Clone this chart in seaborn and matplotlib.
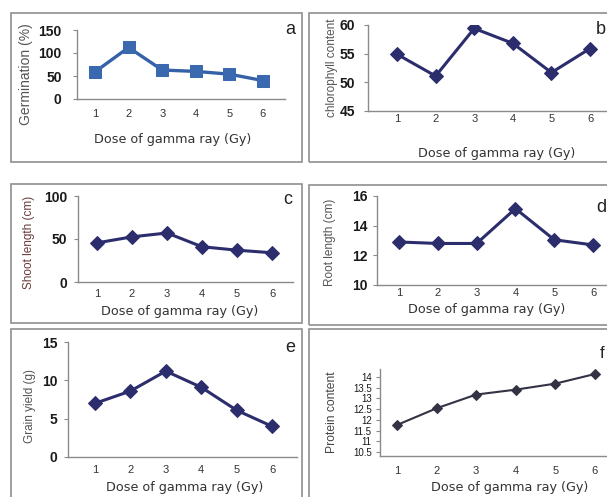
import matplotlib
matplotlib.use("Agg")
import matplotlib.pyplot as plt
import seaborn as sns
import pandas as pd
from matplotlib.patches import Rectangle

# ---------------- data ----------------
dose = [1, 2, 3, 4, 5, 6]
germination = [59, 112, 63, 60, 54, 40]
chlorophyll = [54.9, 51.1, 59.4, 56.8, 51.7, 55.9]
shoot_length = [45.5, 52.5, 57, 41, 37, 34]
root_length = [12.9, 12.8, 12.8, 15.15, 13.05, 12.7]
grain_yield = [7.0, 8.6, 11.2, 9.1, 6.1, 4.0]
protein = [11.76, 12.54, 13.18, 13.41, 13.69, 14.14]

xlabel_text = "Dose of gamma ray (Gy)"
ylabels = ["Germination (%)", "chlorophyll content", "Shoot length (cm)",
           "Root length (cm)", "Grain yield (g)", "Protein content"]
letters = ["a", "b", "c", "d", "e", "f"]

# ---------------- figure ----------------
sns.set_theme(style="white")
plt.rcParams["font.family"] = ["Liberation Sans", "DejaVu Sans"]
W, H = 607, 497
fig = plt.figure(figsize=(W / 100, H / 100), dpi=100)
fig.patch.set_facecolor("white")

# frames (pixel boxes: left, top, right, bottom)
frames = [(11, 13, 302, 162), (309, 13, 612, 162),
          (11, 184, 302, 323), (309, 185, 612, 325),
          (11, 329, 302, 505), (309, 329, 612, 505)]
for (l, t, r, b) in frames:
    fig.patches.append(Rectangle((l / W, 1 - b / H), (r - l) / W, (b - t) / H,
                                 transform=fig.transFigure, fill=False,
                                 edgecolor="#8f8f8f", linewidth=1.2, zorder=0))


def add_ax(l, r, t, b):
    return fig.add_axes([l / W, 1 - b / H, (r - l) / W, (b - t) / H])


navy = "#2c2d6c"
panels = [
    dict(v=germination, box=(77, 285, 30, 99), xlim=(0.464, 6.655), ylim=(0, 150),
         yt=[0, 50, 100, 150], ylp=(26, 74), xlp=(173, 140), ypad=8, xpad=7,
         yfs=10, yfw="bold", col="#3a69b0", lcol="#3561a8", mk="s", ms=8, lw=2.4,
         ylfs=10, ylcol="#555555", let=(290, 30), letfs=13),
    dict(v=chlorophyll, box=(368, 609, 25, 111), xlim=(0.249, 6.49), ylim=(45, 60),
         yt=[45, 50, 55, 60], ylp=(332, 68), xlp=(497, 154), ypad=6, xpad=2,
         yfs=10, yfw="bold", col=navy, lcol=navy, mk="D", ms=7, lw=2.2,
         ylfs=8.5, ylcol="#555555", let=(601, 30), letfs=13),
    dict(v=shoot_length, box=(78, 293, 196, 282), xlim=(0.457, 6.6), ylim=(0, 100),
         yt=[0, 50, 100], ylp=(29, 242), xlp=(180, 312), ypad=5, xpad=5,
         yfs=10, yfw="bold", col=navy, lcol=navy, mk="D", ms=7, lw=2.2,
         ylfs=8.5, ylcol="#6b3a3a", let=(288, 200), letfs=13),
    dict(v=root_length, box=(377, 609, 196, 285), xlim=(0.433, 6.41), ylim=(10, 16),
         yt=[10, 12, 14, 16], ylp=(330, 242), xlp=(487, 310), ypad=4, xpad=2,
         yfs=10, yfw="bold", col=navy, lcol=navy, mk="D", ms=7, lw=2.2,
         ylfs=8.5, ylcol="#555555", let=(601, 207), letfs=13),
    dict(v=grain_yield, box=(68, 297, 342, 457), xlim=(0.237, 6.706), ylim=(0, 15),
         yt=[0, 5, 10, 15], ylp=(30, 406), xlp=(185, 488), ypad=4.5, xpad=6,
         yfs=10, yfw="bold", col=navy, lcol=navy, mk="D", ms=7, lw=2.2,
         ylfs=8.5, ylcol="#555555", let=(290, 348), letfs=13),
    dict(v=protein, box=(380, 609, 369, 456), xlim=(0.571, 6.354), ylim=(10.313, 14.373),
         yt=[10.5, 11, 11.5, 12, 12.5, 13, 13.5, 14], ylp=(332, 412), xlp=(510, 487),
         ypad=3, xpad=7, yfs=7, yfw="normal", col="#333345", lcol="#333345", mk="D",
         ms=5, lw=1.5, ylfs=8.7, ylcol="#444444", let=(602, 353), letfs=12),
]

for p, ylab, letter in zip(panels, ylabels, letters):
    l, r, t, b = p["box"]
    ax = add_ax(l, r, t, b)
    df = pd.DataFrame({"dose": dose, "value": p["v"]})
    sns.lineplot(data=df, x="dose", y="value", ax=ax, color=p["lcol"],
                 linewidth=p["lw"], marker=p["mk"], markersize=p["ms"],
                 markerfacecolor=p["col"], markeredgecolor=p["col"])
    ax.set_xlim(*p["xlim"])
    ax.set_ylim(*p["ylim"])
    ax.set_xticks(dose)
    ax.set_xticklabels([str(d) for d in dose])
    ax.set_yticks(p["yt"])
    ax.set_yticklabels([("%g" % v) for v in p["yt"]])
    ax.set_facecolor("none")
    for s in ["top", "right"]:
        ax.spines[s].set_visible(False)
    for s in ["left", "bottom"]:
        ax.spines[s].set_color("#8a8a8a")
        ax.spines[s].set_linewidth(1.0)
    ax.tick_params(axis="y", which="major", direction="out", length=3, width=0.8,
                   color="#8a8a8a", pad=p["ypad"], labelsize=p["yfs"],
                   labelcolor="#1a1a1a", left=True)
    for lab in ax.get_yticklabels():
        lab.set_fontweight(p["yfw"])
    ax.tick_params(axis="x", length=0, pad=p["xpad"], labelsize=8,
                   labelcolor="#333333")
    ax.set_xlabel(xlabel_text, fontsize=9.2, color="#333333",
                  family=["DejaVu Sans"])
    ax.xaxis.label.set_va("center")
    xx, yy = p["xlp"]
    ax.xaxis.set_label_coords((xx - l) / (r - l), (b - yy) / (b - t))
    ax.set_ylabel(ylab, fontsize=p["ylfs"], color=p["ylcol"])
    ax.yaxis.label.set_va("center")
    xx, yy = p["ylp"]
    ax.yaxis.set_label_coords((xx - l) / (r - l), (b - yy) / (b - t))
    ax.grid(False)
    lx, ly = p["let"]
    fig.text(lx / W, 1 - ly / H, letter, fontsize=p["letfs"], color="#222222",
             ha="center", va="center")

fig.savefig("out.png", dpi=100, facecolor="white")
